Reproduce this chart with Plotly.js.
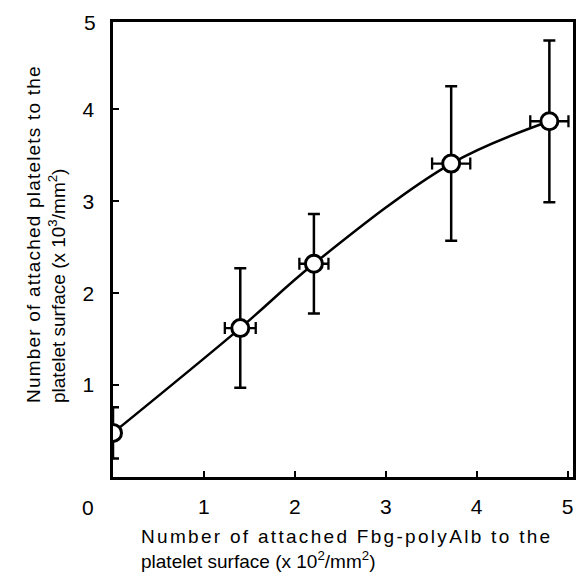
<!DOCTYPE html>
<html>
<head>
<meta charset="utf-8">
<script src="https://cdn.plot.ly/plotly-3.0.1.min.js"></script>
<style>html,body{margin:0;padding:0;background:#fff;}</style>
</head>
<body>
<div id="chart" style="width:587px;height:583px;"></div>
<script>
// Data
const fbgAttached = [0, 1.40, 2.21, 3.72, 4.80];          // x: Fbg-polyAlb (x 10^2/mm^2)
const plateletsAttached = [0.48, 1.62, 2.32, 3.41, 3.87];  // y: platelets (x 10^3/mm^2)
const plateletsErr = [0.28, 0.65, 0.54, 0.84, 0.88];
const fbgErr = [0, 0.17, 0.16, 0.21, 0.21];
const xTickVals = [1, 2, 3, 4, 5];
const xTickText = ['1', '2', '3', '4', '5'];
const yTickVals = [1, 2, 3, 4];
const yTickText = ['1', '2', '3', '4'];
const xTitleLines = ['Number of attached Fbg-polyAlb to the', 'platelet surface (x 10<sup>2</sup>/mm<sup>2</sup>)'];
const yTitleLines = ['Number of attached platelets to the', 'platelet surface (x 10<sup>3</sup>/mm<sup>2</sup>)'];

const FONT = '"Liberation Sans", Arial, Helvetica, sans-serif';

const curve = {
  x: fbgAttached, y: plateletsAttached,
  mode: 'lines', type: 'scatter',
  line: {shape: 'spline', smoothing: 1, color: '#000', width: 2.5},
  hoverinfo: 'skip', showlegend: false
};
const points = {
  x: fbgAttached, y: plateletsAttached,
  mode: 'markers', type: 'scatter',
  marker: {symbol: 'circle', size: 17, color: '#fff', line: {color: '#000', width: 3}},
  error_y: {type: 'data', array: plateletsErr, visible: true, color: '#000', thickness: 2.5, width: 6},
  error_x: {type: 'data', array: fbgErr, visible: true, color: '#000', thickness: 2.3, width: 6},
  showlegend: false
};

const tickFont = {family: FONT, size: 21, color: '#000'};
const annos = [
  {text: '0', xref: 'paper', yref: 'paper', x: 0, y: 0, xanchor: 'center', yanchor: 'middle',
   xshift: -25, yshift: -30, showarrow: false, font: tickFont},
  {text: '5', xref: 'paper', yref: 'paper', x: 0, y: 1, xanchor: 'right', yanchor: 'middle',
   xshift: -15, yshift: 0, showarrow: false, font: tickFont},
  {text: xTitleLines.join('<br>'), xref: 'paper', yref: 'paper', x: 0, y: 0, xanchor: 'left', yanchor: 'top',
   align: 'left', xshift: 26, yshift: -47, showarrow: false, font: {family: FONT, size: 19, color: '#000'}},
  {text: yTitleLines.join('<br>'), xref: 'paper', yref: 'paper', x: 0, y: 0, xanchor: 'center', yanchor: 'bottom',
   align: 'left', xshift: -67, yshift: 72, textangle: -90, showarrow: false, font: {family: FONT, size: 19, color: '#000'}}
];

const layout = {
  width: 587, height: 583,
  margin: {l: 113, r: 14, t: 22, b: 106, pad: 0},
  paper_bgcolor: '#fff', plot_bgcolor: '#fff',
  font: {family: FONT, color: '#000'},
  showlegend: false,
  xaxis: {
    range: [0, 5.06], showgrid: false, zeroline: false,
    showline: true, mirror: true, linecolor: '#000', linewidth: 2.7,
    ticks: 'inside', ticklen: 6, tickwidth: 2, tickcolor: '#000',
    tickvals: xTickVals, ticktext: xTickText, tickfont: tickFont,
    ticklabelstandoff: 9
  },
  yaxis: {
    range: [0, 4.95], showgrid: false, zeroline: false,
    showline: true, mirror: true, linecolor: '#000', linewidth: 2.7,
    ticks: 'inside', ticklen: 6, tickwidth: 2, tickcolor: '#000',
    tickvals: yTickVals, ticktext: yTickText, tickfont: tickFont,
    ticklabelstandoff: 12
  },
  annotations: annos
};

Plotly.newPlot('chart', [curve, points], layout, {staticPlot: true, displayModeBar: false}).then(function () {
  // the first line of each two-line title is set full-width (justified) in the reference
  const spacing = {'Number of attached Fbg-polyAlb to the': '2.3px', 'Number of attached platelets to the': '1.2px'};
  document.querySelectorAll('.annotation-text tspan.line').forEach(function (t) {
    const s = spacing[t.textContent];
    if (s) t.style.letterSpacing = s;
  });
});
</script>
</body>
</html>
